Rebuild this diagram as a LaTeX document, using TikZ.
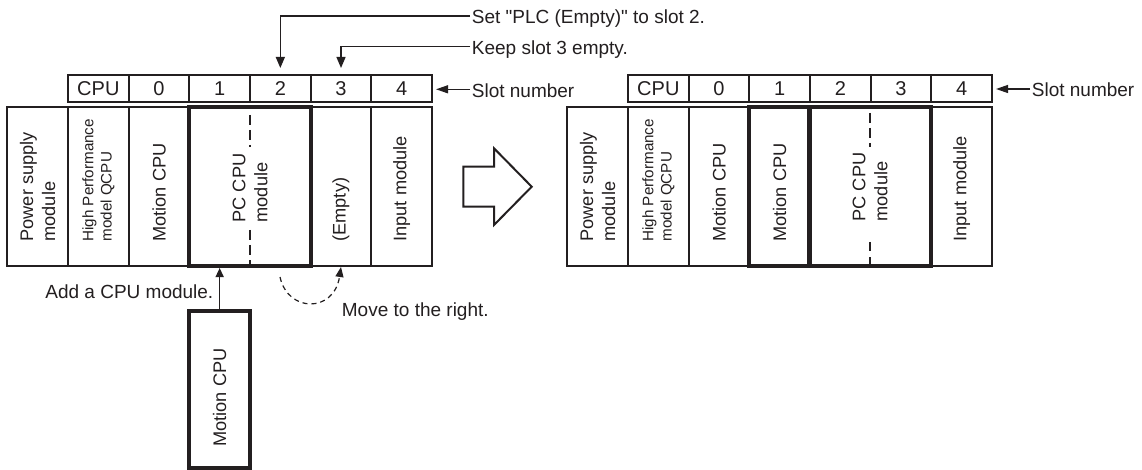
\documentclass[tikz,border=0pt]{standalone}
\usepackage{fontspec}
\setmainfont{Liberation Sans}[Ligatures=TeXOff]
\usetikzlibrary{arrows.meta}
\definecolor{ink}{RGB}{35,31,32}
\begin{document}
\begin{tikzpicture}[x=1pt,y=-1pt,
  every node/.style={text=ink},
  hcell/.style={draw=ink, line width=2pt, minimum width=60.67pt, minimum height=27pt, inner sep=0pt, font=\fontsize{20}{24}\selectfont},
  mod/.style={draw=ink, line width=2pt, minimum height=159pt, inner sep=0pt},
  thickmod/.style={mod, line width=4pt},
  vlab/.style={rotate=90, anchor=west, inner sep=0pt, align=left, font=\fontsize{18.2}{22}\selectfont},
  vsmall/.style={vlab, font=\fontsize{15.2}{18.3}\selectfont},
  lbl/.style={inner sep=0pt, anchor=base west, font=\fontsize{19}{22}\selectfont},
  conn/.style={draw=ink, line width=1.3pt, -{Triangle[width=9pt,length=11pt]}},
  dsh/.style={draw=ink, line width=1.2pt, dash pattern=on 10pt off 5pt},
  curvy/.style={draw=ink, line width=1.2pt, dash pattern=on 5pt off 4pt, -{Triangle[width=8pt,length=10pt]}},
  bigarrow/.style={draw=ink, line width=2pt, line join=miter},
]
\fill[white] (0,0) rectangle (1142,470);
\useasboundingbox (0,0) rectangle (1142,470);

% ---------- headers ----------
\foreach \i/\t in {0/CPU,1/0,2/1,3/2,4/3,5/4}{
  \node[hcell] (h\i) at ({68+60.67*(\i+0.5)},88.5) {\t};
  \node[hcell] (rh\i) at ({628+60.67*(\i+0.5)},88.5) {\t};
}

% ---------- left base unit ----------
\node[mod, minimum width=61pt] (ps) at (37.5,186.5) {};
\node[mod, minimum width=60.67pt] (hp) at (98.33,186.5) {};
\node[mod, minimum width=60.67pt] (mc) at (159,186.5) {};
\node[mod, minimum width=60.67pt] (em) at (341,186.5) {};
\node[mod, minimum width=60.67pt] (in) at (401.67,186.5) {};
\node[thickmod, minimum width=121.33pt] (pc) at (250,186.5) {};

\node[vlab] (pst) at (37.5,241.7) {Power supply\\module};
\node[vsmall] (hpt) at (98.33,241.7) {High Performance\\model QCPU};
\node[vlab] (mct) at (159,241.7) {Motion CPU};
\node[vlab, anchor=center] (pct) at (250,188) {PC CPU\\module};
\node[vlab] (emt) at (341,241.7) {(Empty)};
\node[vlab] (int) at (401.67,241.7) {Input module};

\draw[dsh] (250,115) -- (250,147);
\draw[dsh] (250,230) -- (250,264);

% ---------- added module ----------
\node[thickmod, minimum width=60.67pt, minimum height=157.3pt] (mbox) at (219.67,389.7) {};
\node[vlab] (mboxt) at (219.67,446.7) {Motion CPU};

% ---------- right base unit ----------
\node[mod, minimum width=61pt] (rps) at (597.5,186.5) {};
\node[mod, minimum width=60.67pt] (rhp) at (658.33,186.5) {};
\node[mod, minimum width=60.67pt] (rmc) at (719,186.5) {};
\node[mod, minimum width=60.67pt] (rin) at (961.67,186.5) {};
\node[thickmod, minimum width=60.67pt] (rmc2) at (779.67,186.5) {};
\node[thickmod, minimum width=121.33pt] (rpc) at (870,186.5) {};

\node[vlab] (rpst) at (597.5,241.7) {Power supply\\module};
\node[vsmall] (rhpt) at (658.33,241.7) {High Performance\\model QCPU};
\node[vlab] (rmct) at (719,241.7) {Motion CPU};
\node[vlab] (rmc2t) at (779.67,241.7) {Motion CPU};
\node[vlab, anchor=center] (rpct) at (870,187) {PC CPU\\module};
\node[vlab] (rint) at (961.67,241.7) {Input module};

\draw[dsh] (870,113) -- (870,147);
\draw[dsh, dash pattern=on 9pt off 6pt] (870,242) -- (870,266);

% ---------- labels ----------
\node[lbl] (setlbl) at (471.7,24) {Set "PLC (Empty)" to slot 2.};
\node[lbl] (keeplbl) at (471.7,54.3) {Keep slot 3 empty.};
\node[lbl] (slotlbl) at (471.7,97.3) {Slot number};
\node[lbl] (rslotlbl) at (1031.7,97) {Slot number};
\node[lbl, anchor=base east] (addlbl) at (213.5,298.3) {Add a CPU module.};
\node[lbl] (movelbl) at (341.7,316.7) {Move to the right.};

\coordinate (setstart) at ([shift={(-1.7pt,8pt)}]setlbl.base west);
\coordinate (keepstart) at ([shift={(-1.7pt,8pt)}]keeplbl.base west);
\coordinate (slotstart) at ([shift={(-1.7pt,8pt)}]slotlbl.base west);
\coordinate (rslotstart) at ([shift={(-1.7pt,8pt)}]rslotlbl.base west);
\coordinate (mvstart) at (280,277);

% ---------- connectors ----------
\draw[conn, shorten >=6pt] (setstart) -| (h3.north);
\draw[conn, shorten >=6pt] (keepstart) -| (h4.north);
\draw[conn, -{Triangle[width=8pt,length=12pt]}, shorten >=3pt] (slotstart) -- (slotstart -| h5.east);
\draw[conn, -{Triangle[width=8pt,length=12pt]}, shorten >=3pt] (rslotstart) -- (rslotstart -| rh5.east);
\draw[conn, -{Triangle[width=8pt,length=9pt]}] (mbox.north) -- (mbox.north |- pc.south);
\draw[curvy] (mvstart) .. controls (288,313) and (334,313) .. (em.south);

% ---------- big transition arrow ----------
\draw[bigarrow] (463.3,166.7) -- (494,166.7) -- (494,148.3) -- (531.7,186.7)
  -- (494,225) -- (494,206.7) -- (463.3,206.7) -- cycle;
\end{tikzpicture}
\end{document}
